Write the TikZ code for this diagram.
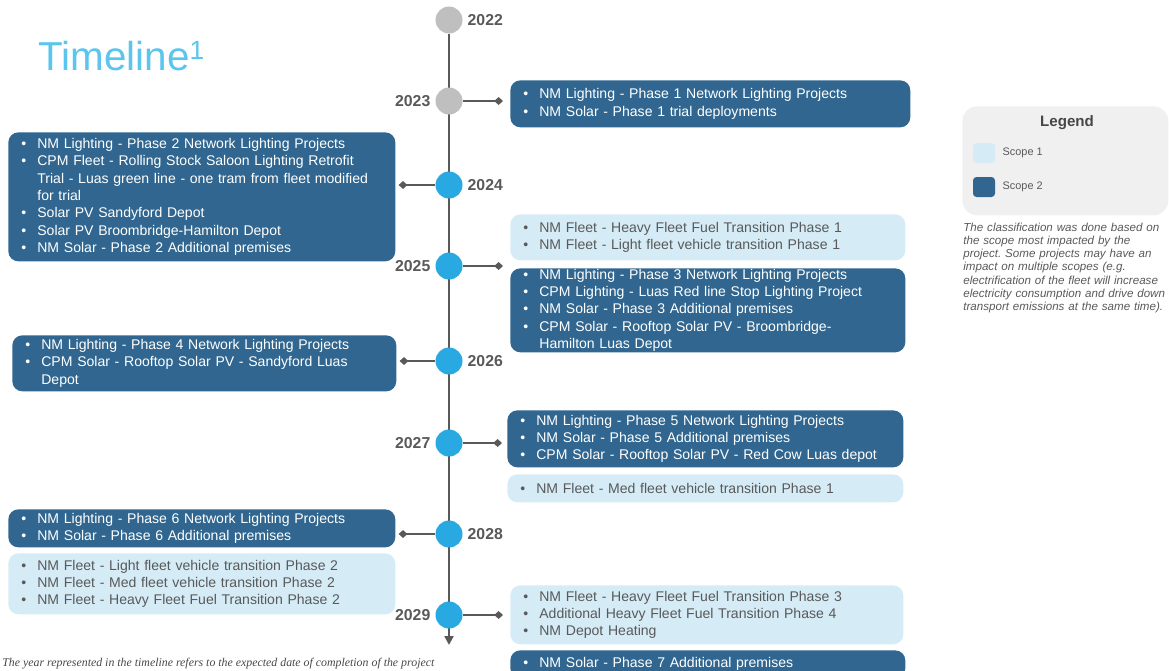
\documentclass[tikz,border=0pt]{standalone}
\usepackage{fontspec}
\setmainfont{Liberation Sans}
\newfontfamily\serifnote{Liberation Serif}
\usetikzlibrary{arrows.meta}
\usetikzlibrary{backgrounds}

\definecolor{scopetwo}{HTML}{30668F}
\definecolor{scopeone}{HTML}{D5ECF7}
\definecolor{dotblue}{HTML}{29A9E1}
\definecolor{dotgray}{HTML}{BFBFBF}
\definecolor{linegray}{HTML}{595959}
\definecolor{textgray}{HTML}{595959}
\definecolor{titleblue}{HTML}{5BC5EE}
\definecolor{legendbg}{HTML}{F0F0F0}

% bullet line with hanging indent
\newif\iffirstpoint
\newcommand{\tlitem}{\iffirstpoint\global\firstpointfalse\else\par\noindent\fi
  \hangindent=0.32cm\hangafter=1\makebox[0.32cm][l]{\textbullet}}

\frenchspacing
\begin{document}
\begin{tikzpicture}[
    x=0.02cm, y=-0.02cm,
% timeline dots
    dot/.style={circle,fill=dotblue,minimum size=0.54cm,inner sep=0pt},
    olddot/.style={dot,fill=dotgray},
    year/.style={font=\bfseries\fontsize{9}{10}\selectfont,text=textgray,inner sep=0pt},
    label distance=0.09cm,
% project boxes
    scope2/.style={rectangle,rounded corners=0.2cm,fill=scopetwo,text=white,anchor=north west,
        inner xsep=0.26cm,inner ysep=0pt,font=\fontsize{8}{9.9}\selectfont,
        execute at begin node={\global\firstpointtrue\rightskip=0pt plus 1fil\relax}},
    scope1/.style={scope2,fill=scopeone,text=textgray},
    link/.style={draw=linegray,line width=1.1pt,-{Diamond[length=5pt,width=4.5pt]}},
    spine/.style={draw=linegray,line width=1.6pt,-{Triangle[length=5pt,width=5pt]}},
% legend
    swatch/.style={rectangle,rounded corners=2pt,minimum width=0.44cm,minimum height=0.4cm,inner sep=0pt},
    scopelbl/.style={font=\fontsize{6.2}{7}\selectfont,text=textgray,inner sep=0pt,label distance=0.14cm}
    ]

  \useasboundingbox (0,0) rectangle (1169,670);

  \node (title) [anchor=base west,inner sep=0pt,text=titleblue,font=\fontsize{23}{26}\selectfont]
    at (38,70) {Timeline\raisebox{6.2pt}{\fontsize{15}{16}\selectfont 1}};

  % years
  \node (c2022) [olddot,label={[year]right:2022}] at (449,20) {};
  \node (c2023) [olddot,label={[year]left:2023}] at (449,101) {};
  \node (c2024) [dot,label={[year]right:2024}] at (449,185) {};
  \node (c2025) [dot,label={[year]left:2025}] at (449,266) {};
  \node (c2026) [dot,label={[year]right:2026}] at (449,361) {};
  \node (c2027) [dot,label={[year]left:2027}] at (449,443) {};
  \node (c2028) [dot,label={[year]right:2028}] at (449,534) {};
  \node (c2029) [dot,label={[year]left:2029}] at (449,615) {};
  \coordinate (tip) at (449,645);

  % projects
  \node (b2023) [scope2,text width=7.48cm,minimum height=0.94cm] at (510,80)
    {\tlitem NM Lighting - Phase 1 Network Lighting Projects
     \tlitem NM Solar - Phase 1 trial deployments};
  \node (b2024) [scope2,text width=7.22cm,minimum height=2.58cm] at (8,132)
    {\tlitem NM Lighting - Phase 2 Network Lighting Projects
     \tlitem CPM Fleet - Rolling Stock Saloon Lighting Retrofit\newline Trial - Luas green line - one tram from fleet modified\newline for trial
     \tlitem Solar PV Sandyford Depot
     \tlitem Solar PV Broombridge-Hamilton Depot
     \tlitem NM Solar - Phase 2 Additional premises};
  \node (b2025a) [scope1,text width=7.38cm,minimum height=0.92cm] at (510,214)
    {\tlitem NM Fleet - Heavy Fleet Fuel Transition Phase 1
     \tlitem NM Fleet - Light fleet vehicle transition Phase 1};
  \node (b2025b) [scope2,text width=7.38cm,minimum height=1.68cm] at (510,268)
    {\tlitem NM Lighting - Phase 3 Network Lighting Projects
     \tlitem CPM Lighting - Luas Red line Stop Lighting Project
     \tlitem NM Solar - Phase 3 Additional premises
     \tlitem CPM Solar - Rooftop Solar PV - Broombridge-\newline Hamilton Luas Depot\par};
  \node (b2026) [scope2,text width=7.16cm,minimum height=1.12cm] at (12,335)
    {\tlitem NM Lighting - Phase 4 Network Lighting Projects
     \tlitem CPM Solar - Rooftop Solar PV - Sandyford Luas\newline Depot\par};
  \node (b2027a) [scope2,text width=7.40cm,minimum height=1.14cm] at (507,410)
    {\tlitem NM Lighting - Phase 5 Network Lighting Projects
     \tlitem NM Solar - Phase 5 Additional premises
     \tlitem CPM Solar - Rooftop Solar PV - Red Cow Luas depot};
  \node (b2027b) [scope1,text width=7.40cm,minimum height=0.56cm] at (507,474)
    {\tlitem NM Fleet - Med fleet vehicle transition Phase 1};
  \node (b2028a) [scope2,text width=7.22cm,minimum height=0.76cm] at (8,509)
    {\tlitem NM Lighting - Phase 6 Network Lighting Projects
     \tlitem NM Solar - Phase 6 Additional premises};
  \node (b2028b) [scope1,text width=7.22cm,minimum height=1.22cm] at (8,553)
    {\tlitem NM Fleet - Light fleet vehicle transition Phase 2
     \tlitem NM Fleet - Med fleet vehicle transition Phase 2
     \tlitem NM Fleet - Heavy Fleet Fuel Transition Phase 2};
  \node (b2029a) [scope1,text width=7.34cm,minimum height=1.18cm] at (510,585)
    {\tlitem NM Fleet - Heavy Fleet Fuel Transition Phase 3
     \tlitem Additional Heavy Fleet Fuel Transition Phase 4
     \tlitem NM Depot Heating};
  \node (b2029b) [scope2,text width=7.38cm,minimum height=0.56cm] at (510,650)
    {\tlitem NM Solar - Phase 7 Additional premises};

  \draw[link,shorten >=0.14cm] (c2023) -- (c2023 -| b2023.west);
  \draw[link,shorten >=0.06cm] (c2024) -- (c2024 -| b2024.east);
  \draw[link,shorten >=0.14cm] (c2025) -- (c2025 -| b2025b.west);
  \draw[link,shorten >=0.06cm] (c2026) -- (c2026 -| b2026.east);
  \draw[link,shorten >=0.10cm] (c2027) -- (c2027 -| b2027a.west);
  \draw[link,shorten >=0.06cm] (c2028) -- (c2028 -| b2028a.east);
  \draw[link,shorten >=0.14cm] (c2029) -- (c2029 -| b2029a.west);

  % legend
  \node (legend) [rectangle,rounded corners=0.3cm,fill=legendbg,minimum width=4.12cm,
    minimum height=2.18cm,anchor=north west] at (962,106) {};
  \node (legendtitle) [font=\bfseries\fontsize{8.6}{10}\selectfont,text=textgray!80!black,inner sep=0pt]
    at (1067,123) {Legend};
  \node (sw1) [swatch,fill=scopeone,label={[scopelbl]right:Scope 1}] at (984,153) {};
  \node (sw2) [swatch,fill=scopetwo,label={[scopelbl]right:Scope 2}] at (984,187) {};
  \node (note) [anchor=base west,inner sep=0pt,text width=4.2cm,text=textgray,
    font=\itshape\fontsize{6.6}{7.55}\selectfont] at (963,231)
    {The classification was done based on\newline the scope most impacted by the\newline
     project. Some projects may have an\newline impact on multiple scopes (e.g.\newline
     electrification of the fleet will increase\newline electricity consumption and drive down\newline
     transport emissions at the same time).};

  \node (footnote) [anchor=base west,inner sep=0pt,text=textgray!80!black,
    font=\serifnote\itshape\fontsize{6.75}{7.5}\selectfont] at (2,666)
    {The year represented in the timeline refers to the expected date of completion of the project};

\begin{pgfonlayer}{background}
  \draw[spine] (c2022) -- (tip);
\end{pgfonlayer}

\end{tikzpicture}
\end{document}
